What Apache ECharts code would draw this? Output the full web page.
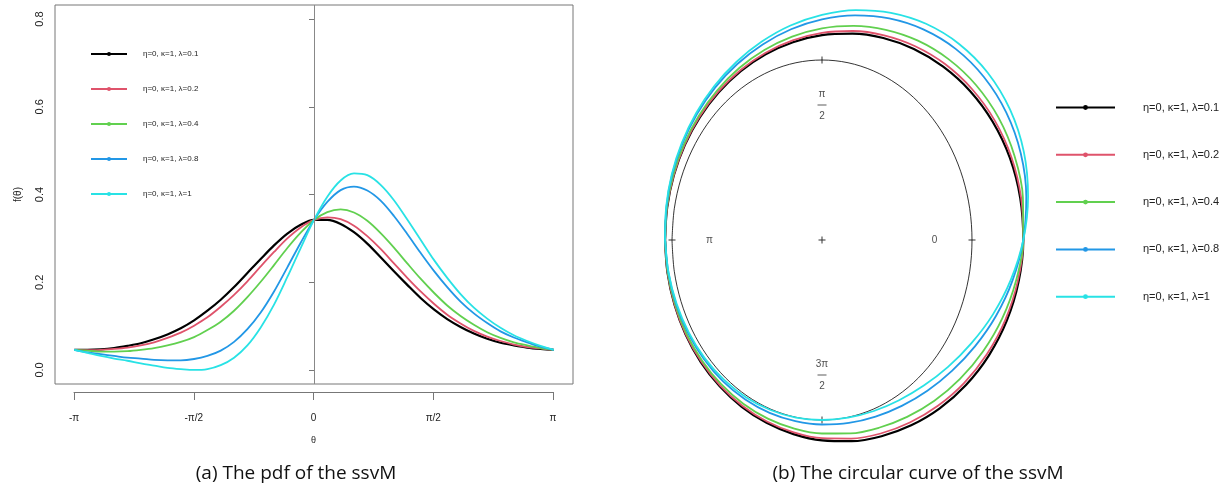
<!DOCTYPE html>
<html>
<head>
<meta charset="utf-8">
<title>ssvM</title>
<script src="https://cdn.jsdelivr.net/npm/echarts@6/dist/echarts.min.js"></script>
<style>
  html, body { margin: 0; padding: 0; background: #fff; }
  #chart { width: 1224px; height: 491px; }
</style>
</head>
<body>
<div id="chart"></div>
<script>
// theta grid (degrees) and density values
const thetaDeg = [-180, -170, -160, -150, -140, -130, -120, -110, -100, -90, -80, -70, -60, -50, -40, -30, -20, -10,
  0, 10, 20, 30, 40, 50, 60, 70, 80, 90, 100, 110, 120, 130, 140, 150, 160, 170, 180];

const lambda01 = [0.046, 0.046, 0.047, 0.050, 0.055, 0.061, 0.070, 0.081, 0.095, 0.113, 0.135, 0.160, 0.189, 0.221, 0.253, 0.284, 0.311, 0.331,
  0.342, 0.342, 0.333, 0.314, 0.288, 0.257, 0.225, 0.194, 0.164, 0.138, 0.116, 0.098, 0.083, 0.071, 0.062, 0.056, 0.051, 0.048, 0.046];
const lambda02 = [0.046, 0.045, 0.046, 0.048, 0.051, 0.056, 0.063, 0.073, 0.085, 0.101, 0.120, 0.144, 0.171, 0.202, 0.236, 0.269, 0.300, 0.325,
  0.342, 0.348, 0.344, 0.329, 0.305, 0.276, 0.243, 0.210, 0.179, 0.151, 0.126, 0.106, 0.089, 0.076, 0.066, 0.058, 0.052, 0.049, 0.046];
const lambda04 = [0.046, 0.044, 0.042, 0.042, 0.043, 0.046, 0.050, 0.056, 0.064, 0.075, 0.091, 0.110, 0.135, 0.166, 0.201, 0.239, 0.278, 0.313,
  0.342, 0.360, 0.366, 0.359, 0.340, 0.312, 0.279, 0.243, 0.208, 0.176, 0.147, 0.123, 0.103, 0.086, 0.073, 0.063, 0.056, 0.050, 0.046];
const lambda08 = [0.046, 0.040, 0.036, 0.032, 0.028, 0.026, 0.023, 0.022, 0.022, 0.025, 0.032, 0.044, 0.064, 0.093, 0.131, 0.179, 0.234, 0.290,
  0.342, 0.383, 0.410, 0.418, 0.409, 0.386, 0.351, 0.310, 0.267, 0.226, 0.189, 0.156, 0.129, 0.107, 0.088, 0.074, 0.063, 0.053, 0.046];
const lambda1 = [0.046, 0.039, 0.032, 0.026, 0.021, 0.015, 0.010, 0.005, 0.002, 0.000, 0.002, 0.011, 0.028, 0.056, 0.097, 0.149, 0.212, 0.278,
  0.342, 0.395, 0.432, 0.448, 0.444, 0.422, 0.387, 0.343, 0.297, 0.251, 0.210, 0.173, 0.142, 0.117, 0.096, 0.079, 0.066, 0.055, 0.046];

const seriesNames = ['η=0, κ=1, λ=0.1', 'η=0, κ=1, λ=0.2', 'η=0, κ=1, λ=0.4', 'η=0, κ=1, λ=0.8', 'η=0, κ=1, λ=1'];
const seriesValues = [lambda01, lambda02, lambda04, lambda08, lambda1];

const xTickValues = [-180, -90, 0, 90, 180];
const xTickLabels = ['-π', '-π/2', '0', 'π/2', 'π'];
const yTickValues = [0, 0.2, 0.4, 0.6, 0.8];

const circleTickAngles = [0, 90, 180, 270];
const circleTickLabels = ['0', 'π/2', 'π', '3π/2'];

const COLORS = ['#000000', '#DF536B', '#61D04F', '#2297E6', '#28E2E5'];
const SANS = '"Liberation Sans", Arial, sans-serif';
const TEXT = '#222';
// catmull-rom like tension, 0.5 flattens the curves between points
const SMOOTH = 0.33;

const polarPoint = (deg, r) => {
  const rad = deg * Math.PI / 180;
  return [r * Math.cos(rad), r * Math.sin(rad)];
};

const fractionLabel = (text) => {
  const parts = text.split('/');
  if (parts.length < 2) return text;
  return `{num|${parts[0]}}\n{bar| }\n{num|${parts[1]}}`;
};

const chart = echarts.init(document.getElementById('chart'));

const pdfSeries = seriesValues.map((values, i) => ({
  name: seriesNames[i],
  type: 'line',
  xAxisIndex: 0,
  yAxisIndex: 0,
  smooth: SMOOTH,
  symbol: 'circle',
  showSymbol: false,
  color: COLORS[i],
  lineStyle: { width: i === 0 ? 2.2 : 1.8 },
  data: thetaDeg.map((t, k) => [t, values[k]]),
  markLine: i === 0 ? {
    silent: true,
    symbol: 'none',
    label: { show: false },
    lineStyle: { color: '#888', width: 1, type: 'solid' },
    data: [{ xAxis: 0 }],
  } : undefined,
}));

const circleSeries = seriesValues.map((values, i) => ({
  name: seriesNames[i],
  type: 'line',
  xAxisIndex: 2,
  yAxisIndex: 2,
  smooth: SMOOTH,
  symbol: 'circle',
  showSymbol: false,
  color: COLORS[i],
  lineStyle: { width: i === 0 ? 2.2 : 1.8 },
  data: thetaDeg.map((t, k) => polarPoint(t, 1 + values[k])),
}));

const option = {
  animation: false,
  backgroundColor: '#fff',
  grid: [
    { left: 55, top: 5, width: 518, height: 379, show: true, borderColor: '#777', borderWidth: 1 },
    { left: 74, top: 5, width: 479, height: 387 },
    { left: 612, top: 6, width: 420, height: 468 },
  ],
  xAxis: [
    { gridIndex: 0, type: 'value', min: -194.4, max: 194.4, show: false },
    {
      gridIndex: 1,
      type: 'value',
      min: -180,
      max: 180,
      axisLine: { show: true, lineStyle: { color: '#777' } },
      axisTick: { show: true, customValues: xTickValues, length: 8, lineStyle: { color: '#777' } },
      axisLabel: {
        customValues: xTickValues,
        formatter: (v) => xTickLabels[xTickValues.indexOf(v)],
        margin: 21,
        fontSize: 10,
        fontFamily: SANS,
        color: TEXT,
      },
      splitLine: { show: false },
      name: 'θ',
      nameLocation: 'middle',
      nameGap: 44,
      nameTextStyle: { fontSize: 9, fontFamily: SANS, color: TEXT },
    },
    { gridIndex: 2, type: 'value', min: -1.4, max: 1.4, show: false },
  ],
  yAxis: [
    {
      gridIndex: 0,
      type: 'value',
      min: -0.032,
      max: 0.832,
      axisLine: { show: false },
      axisTick: { show: true, customValues: yTickValues, length: 5, lineStyle: { color: '#777' } },
      axisLabel: {
        customValues: yTickValues,
        formatter: (v) => v.toFixed(1),
        rotate: 90,
        margin: 10,
        fontSize: 11,
        fontFamily: SANS,
        color: TEXT,
      },
      splitLine: { show: false },
      name: 'f(θ)',
      nameLocation: 'middle',
      nameRotate: 90,
      nameGap: 32,
      nameTextStyle: { fontSize: 10, fontFamily: SANS, color: TEXT },
    },
    { gridIndex: 1, type: 'value', min: 0, max: 1, show: false },
    { gridIndex: 2, type: 'value', min: -1.3, max: 1.3, show: false },
  ],
  legend: [
    {
      data: seriesNames,
      orient: 'vertical',
      left: 90,
      top: 50,
      padding: 0,
      itemWidth: 36,
      itemHeight: 5,
      itemGap: 27,
      selectedMode: false,
      textStyle: { fontSize: 8, fontFamily: SANS, color: TEXT, padding: [0, 0, 0, 11] },
    },
    {
      data: seriesNames,
      orient: 'vertical',
      left: 1055,
      top: 102,
      padding: 0,
      itemWidth: 59,
      itemHeight: 6,
      itemGap: 36.3,
      selectedMode: false,
      textStyle: { fontSize: 11, fontFamily: SANS, color: TEXT, padding: [0, 0, 0, 23] },
    },
  ],
  series: [
    ...pdfSeries,
    {
      name: 'unit circle',
      type: 'line',
      xAxisIndex: 2,
      yAxisIndex: 2,
      smooth: SMOOTH,
      showSymbol: false,
      color: '#000',
      lineStyle: { width: 0.8 },
      data: thetaDeg.map((t) => polarPoint(t, 1)),
    },
    ...circleSeries,
    {
      name: 'ticks',
      type: 'scatter',
      xAxisIndex: 2,
      yAxisIndex: 2,
      symbol: 'rect',
      color: '#000',
      data: circleTickAngles.map((a) => ({
        value: polarPoint(a, 1),
        symbolSize: a % 180 === 0 ? [7, 1] : [1, 7],
      })).concat([{ value: polarPoint(0, 0), symbol: 'path://M0,3h7v1h-7zM3,0h1v7h-1z', symbolSize: 7 }]),
    },
    {
      name: 'tick labels',
      type: 'scatter',
      xAxisIndex: 2,
      yAxisIndex: 2,
      symbolSize: 0,
      data: circleTickAngles.map((a, i) => ({ value: polarPoint(a, 0.75), name: circleTickLabels[i] })),
      label: {
        show: true,
        position: 'inside',
        formatter: (p) => fractionLabel(p.name),
        fontSize: 10,
        fontFamily: SANS,
        color: TEXT,
        rich: {
          num: { fontSize: 10, lineHeight: 13, fontFamily: SANS, color: TEXT, align: 'center' },
          bar: { width: 9, height: 1, lineHeight: 9, backgroundColor: '#333', align: 'center' },
        },
      },
    },
  ],
  graphic: [
    {
      type: 'text',
      style: {
        x: 296, y: 474, text: '(a) The pdf of the ssvM', align: 'center', verticalAlign: 'middle',
        fontSize: 19, fontFamily: '"Open Sans", sans-serif', fill: '#111',
      },
    },
    {
      type: 'text',
      style: {
        x: 918, y: 474, text: '(b) The circular curve of the ssvM', align: 'center', verticalAlign: 'middle',
        fontSize: 19, fontFamily: '"Open Sans", sans-serif', fill: '#111',
      },
    },
  ],
};

chart.setOption(option);
</script>
</body>
</html>
